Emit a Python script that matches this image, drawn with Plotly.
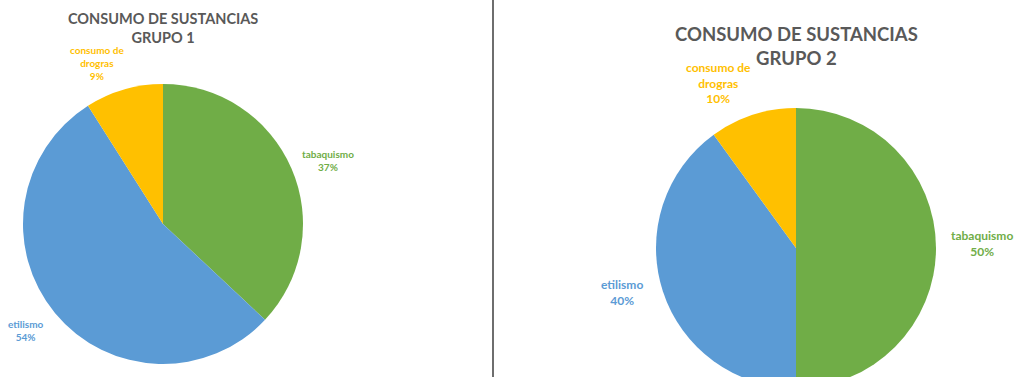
import plotly.graph_objects as go

# ---- data ----
categories = ["tabaquismo", "etilismo", "consumo de drogras"]
grupo1_values = [37, 54, 9]
grupo2_values = [50, 40, 10]
titles = ["CONSUMO DE SUSTANCIAS<br>GRUPO 1", "CONSUMO DE SUSTANCIAS<br>GRUPO 2"]
colors = ["#70AD47", "#5B9BD5", "#FFC000"]

W, H = 1019, 400
FONT = "Lato"


def px(x):
    return x / W


def py(y):
    return 1 - y / H


fig = go.Figure()

# pie geometry (center x, center y from top, radius) in pixels
pies = [
    dict(values=grupo1_values, cx=163, cy=224, r=140),
    dict(values=grupo2_values, cx=796, cy=248, r=140),
]
for p in pies:
    fig.add_trace(go.Pie(
        labels=categories,
        values=p["values"],
        sort=False,
        direction="clockwise",
        rotation=0,
        marker=dict(colors=colors, line=dict(color="white", width=0)),
        textinfo="none",
        hoverinfo="label+percent",
        showlegend=False,
        domain=dict(x=[px(p["cx"] - p["r"]), px(p["cx"] + p["r"])],
                    y=[py(p["cy"] + p["r"]), py(p["cy"] - p["r"])]),
    ))

annotations = []
# titles
title_pos = [(163, 28, 14.5, 1.45), (796, 46, 18.5, 1.35)]
for t, (x, y, s, _) in zip(titles, title_pos):
    annotations.append(dict(text=f"<b>{t}</b>", x=px(x), y=py(y), xref="paper", yref="paper",
                            showarrow=False, xanchor="center", yanchor="middle",
                            font=dict(family=FONT, size=s, color="#595959")))

# data labels
label_pos = [
    [(328, 160), (26, 330), (97, 63)],
    [(982, 243), (622, 292), (718, 83)],
]
label_sizes = [10, 12]
for vals, poss, sz in zip([grupo1_values, grupo2_values], label_pos, label_sizes):
    total = sum(vals)
    for cat, v, col, (x, y) in zip(categories, vals, colors, poss):
        name = cat.replace("consumo de ", "consumo de<br>")
        pct = round(100 * v / total)
        annotations.append(dict(text=f"<b>{name}<br>{pct}%</b>", x=px(x), y=py(y),
                                xref="paper", yref="paper", showarrow=False,
                                xanchor="center", yanchor="middle",
                                font=dict(family=FONT, size=sz, color=col)))

fig.update_layout(
    width=W, height=H,
    margin=dict(l=0, r=0, t=0, b=0),
    paper_bgcolor="white",
    plot_bgcolor="white",
    annotations=annotations,
    shapes=[dict(type="line", xref="paper", yref="paper", x0=px(493), x1=px(493),
                 y0=0, y1=1, line=dict(color="#6E6E6E", width=2))],
)

fig.write_html("out.html",
               post_script="document.documentElement.style.overflow='hidden';document.body.style.overflow='hidden';")
